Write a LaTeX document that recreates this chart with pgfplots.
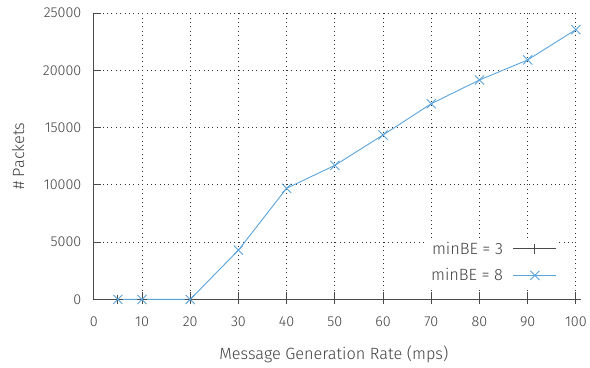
\documentclass[border=0pt]{standalone}
\usepackage{fontspec}
\setmainfont{Fira Sans}[UprightFont=* Light]
\usepackage{pgfplots}
\pgfplotsset{compat=1.18}

\definecolor{lineblue}{HTML}{5BA3DB}
\definecolor{linegray}{HTML}{4A4A4A}
\definecolor{textgray}{HTML}{404040}

\newcommand{\labelfont}{\fontsize{16.4}{19}\selectfont}
\newcommand{\tickfont}{\fontsize{14.4}{17}\selectfont}

\begin{document}
\begin{tikzpicture}
\begin{axis}[
  name=ax,
  scale only axis,
  width=483bp, height=287bp,
  xmin=0, xmax=100, ymin=0, ymax=25000,
  xtick={0,10,...,100},
  ytick={0,5000,...,25000},
  axis x line*=bottom, axis y line*=left,
  axis line style={linegray, line width=0.9pt, -},
  tick style={linegray, line width=0.8pt},
  tick align=inside,
  major tick length=7bp,
  grid=major,
  major grid style={black!80, line width=0.75pt, dash pattern=on 0.8bp off 3.6bp},
  scaled y ticks=false,
  /pgf/number format/assume math mode=true,
  /pgf/number format/1000 sep={},
  ticklabel style={text=textgray, font=\tickfont},
  xticklabel style={yshift=-14bp},
  yticklabel style={xshift=-9bp},
  xlabel={Message Generation Rate (mps)},
  ylabel={\# Packets},
  label style={text=textgray, font=\labelfont},
  xlabel style={at={(axis description cs:0.498,-0.192)}, anchor=center},
  ylabel style={at={(axis description cs:-0.157,0.5)}, anchor=center},
  legend plot pos=right,
  legend cell align=right,
  legend style={at={(0.965,0.045)}, anchor=south east, draw=none, fill=white,
    font=\labelfont, text=textgray, row sep=9bp, column sep=8bp, inner sep=2bp},
  legend image code/.code={\draw[#1] (0bp,0bp) -- (43bp,0bp); \draw[#1, only marks] plot coordinates {(21.5bp,0bp)};},
]
\addplot[color=linegray, line width=0.9pt, mark=+, mark size=4.8bp] coordinates {
  (5,0) (10,0) (20,0) (30,0) (40,0) (50,0) (60,0) (70,0) (80,0) (90,0) (100,0)
};
\addlegendentry{minBE = 3}
\addplot[color=lineblue, line width=0.9pt, mark=x, mark size=6.5bp] coordinates {
  (5,0) (10,0) (20,0) (30,4300) (40,9700) (50,11700) (60,14350) (70,17080)
  (80,19150) (90,20900) (100,23550)
};
\addlegendentry{minBE = 8}
\end{axis}
% page frame around the plot area
\path ([xshift=-94bp,yshift=-68bp]ax.south west) rectangle ([xshift=13bp,yshift=13bp]ax.north east);
\end{tikzpicture}
\end{document}
